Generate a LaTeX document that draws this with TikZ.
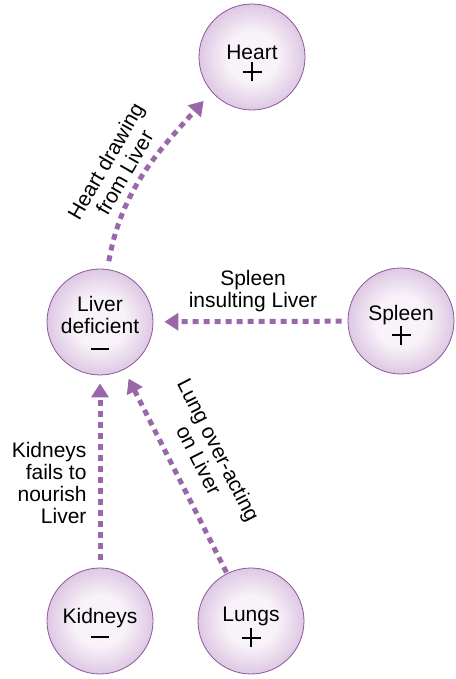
\documentclass[tikz,border=0pt]{standalone}
\usepackage{fontspec}
\setmainfont{Liberation Sans}
\usetikzlibrary{arrows.meta}

\definecolor{orbedge}{HTML}{8A5898}
\definecolor{orbout}{HTML}{9F6CB0}
\definecolor{orbmid}{HTML}{C29CCE}
\definecolor{orbin}{HTML}{F8F2F9}
\definecolor{linkpurple}{HTML}{9A68AA}
\pgfdeclareradialshading{orb}{\pgfpoint{0bp}{0bp}}{color(0bp)=(orbin); color(12bp)=(orbin); color(28bp)=(orbmid!60!orbin); color(41bp)=(orbmid); color(50bp)=(orbout)}

% signs drawn from rules
\newcommand{\plussign}{\mbox{\rlap{\rule[8.4pt]{19pt}{2pt}}\hspace{8.5pt}\rule{2pt}{19pt}\hspace{8.5pt}}}
\newcommand{\minussign}{\mbox{\rule[7pt]{18pt}{2pt}}}
% pushes the text of a circle down a little
\newcommand{\downby}[1]{\rule{0pt}{#1}}

\tikzset{
  organ/.style={circle, minimum size=106pt, inner sep=0pt, draw=orbedge, line width=0.8pt,
    shading=orb, align=center, font=\fontsize{21}{22}\selectfont},
  link/.style={linkpurple, line width=5pt, dash pattern=on 6pt off 5pt,
    -{Triangle[length=14pt,width=17pt]}},
  caption/.style={align=center, font=\fontsize{21}{22}\selectfont}
}

\begin{document}
\begin{tikzpicture}[x=1pt,y=1pt]
    \useasboundingbox (0, 0) rectangle (455, 679);

    % organs
    \node[organ] (heart) at (252, 622) {\downby{27pt}Heart\\[0pt]\plussign};
    \node[organ] (liver) at (100, 357) {\downby{25pt}Liver\\deficient\\[1pt]\minussign};
    \node[organ] (spleen) at (401, 358) {\downby{23pt}Spleen\\[0pt]\plussign};
    \node[organ] (kidneys) at (100, 58) {\downby{27pt}Kidneys\\[0pt]\minussign};
    \node[organ] (lungs) at (251, 58) {\downby{27pt}Lungs\\[1pt]\plussign};

    % relations
    \draw[link, shorten <=8pt, shorten >=12pt] (liver.82) to[out=80, in=-132] (heart.-139);
    \draw[link, shorten <=6pt, shorten >=11pt] (spleen) -- (liver);
    \draw[link, shorten <=8pt, shorten >=8pt] (kidneys) -- (liver);
    \draw[link, shorten <=1pt, shorten >=10pt] (lungs) -- (liver);

    % labels
    \node[caption, rotate=60] (heartlabel) at (115, 512) {Heart drawing\\from Liver};
    \node[caption] (spleenlabel) at (253, 388) {Spleen\\insulting Liver};
    \node[caption, align=right, anchor=east] (kidneylabel) at (90, 196) {Kidneys\\fails to\\nourish\\Liver};
    \node[caption, rotate=-63] (lunglabel) at (209, 224) {Lung over-acting\\on Liver};
\end{tikzpicture}
\end{document}
